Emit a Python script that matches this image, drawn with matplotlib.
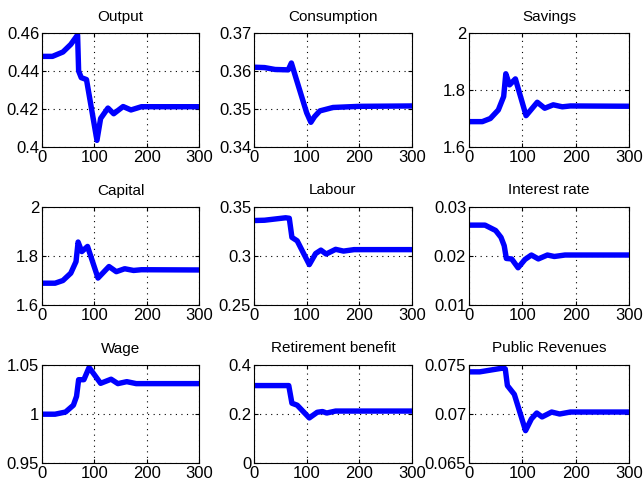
import matplotlib
matplotlib.use("Agg")
import matplotlib.pyplot as plt
from matplotlib.ticker import FuncFormatter

plt.rcParams["font.family"] = ["Liberation Sans", "DejaVu Sans"]

# --- data (period, value) ---
output_x = [0, 20, 40, 55, 68, 70, 75, 85, 105, 112, 126, 137, 155, 170, 190, 300]
output_y = [0.4477, 0.4477, 0.4500, 0.4540, 0.4590, 0.4400, 0.4365, 0.4355, 0.4035,
            0.4150, 0.4205, 0.4175, 0.4213, 0.4195, 0.4212, 0.4212]

cons_x = [0, 20, 40, 65, 71, 80, 100, 108, 115, 125, 150, 200, 300]
cons_y = [0.3610, 0.3609, 0.3604, 0.3603, 0.3621, 0.3580, 0.3490, 0.3465, 0.3480,
          0.3495, 0.3504, 0.3507, 0.3508]

sav_x = [0, 25, 40, 55, 65, 69, 76, 87, 107, 128, 142, 158, 175, 190, 300]
sav_y = [1.689, 1.689, 1.700, 1.730, 1.777, 1.857, 1.818, 1.839, 1.710, 1.757,
         1.736, 1.748, 1.741, 1.744, 1.743]

cap_x = sav_x
cap_y = sav_y

lab_x = [0, 20, 60, 67, 72, 82, 105, 117, 127, 137, 155, 170, 190, 300]
lab_y = [0.3362, 0.3365, 0.3390, 0.3385, 0.3190, 0.3155, 0.2912, 0.3025, 0.3060,
         0.3020, 0.3068, 0.3050, 0.3065, 0.3065]

rate_x = [0, 30, 50, 60, 66, 70, 80, 92, 105, 117, 130, 147, 160, 180, 300]
rate_y = [0.0263, 0.0263, 0.0252, 0.0238, 0.0221, 0.0195, 0.0194, 0.0176, 0.0193,
          0.0202, 0.0194, 0.0202, 0.0199, 0.0202, 0.0202]

wage_x = [0, 25, 45, 60, 66, 70, 80, 90, 112, 132, 145, 162, 180, 300]
wage_y = [0.9998, 0.9998, 1.0020, 1.0090, 1.0180, 1.0350, 1.0350, 1.0475, 1.0313,
          1.0355, 1.0310, 1.0330, 1.0310, 1.0310]

ret_x = [0, 66, 72, 82, 105, 120, 130, 138, 155, 300]
ret_y = [0.316, 0.316, 0.244, 0.236, 0.184, 0.207, 0.210, 0.204, 0.212, 0.212]

rev_x = [0, 20, 65, 68, 72, 85, 106, 117, 127, 137, 155, 170, 190, 300]
rev_y = [0.0743, 0.0743, 0.0747, 0.0746, 0.0729, 0.0720, 0.0683, 0.0695, 0.0701,
         0.0697, 0.0702, 0.0700, 0.0702, 0.0702]

titles = ["Output", "Consumption", "Savings", "Capital", "Labour", "Interest rate",
          "Wage", "Retirement benefit", "Public Revenues"]
series = [(output_x, output_y), (cons_x, cons_y), (sav_x, sav_y), (cap_x, cap_y),
          (lab_x, lab_y), (rate_x, rate_y), (wage_x, wage_y), (ret_x, ret_y),
          (rev_x, rev_y)]
yticks = [[0.40, 0.42, 0.44, 0.46], [0.34, 0.35, 0.36, 0.37], [1.6, 1.8, 2.0],
          [1.6, 1.8, 2.0], [0.25, 0.30, 0.35], [0.01, 0.02, 0.03],
          [0.95, 1.00, 1.05], [0.0, 0.2, 0.4], [0.065, 0.070, 0.075]]

W, H = 644, 487
# axes boxes in pixels: (left, right) per column, (top, bottom) per row
cols = [(42, 199), (254, 412), (469, 629)]
rows = [(33, 147), (207, 305), (365, 463)]

fig = plt.figure(figsize=(W / 100, H / 100), dpi=100)
for i, (title, (xs, ys), yt) in enumerate(zip(titles, series, yticks)):
    (l, r), (t, b) = cols[i % 3], rows[i // 3]
    ax = fig.add_axes([l / W, 1 - b / H, (r - l) / W, (b - t) / H])
    ax.plot(xs, ys, color="#0000ff", lw=3.9, solid_joinstyle="round",
            solid_capstyle="butt")
    ax.set_xlim(0, 300)
    ax.set_ylim(yt[0], yt[-1])
    ax.set_xticks([0, 100, 200, 300])
    ax.set_yticks(yt)
    ax.yaxis.set_major_formatter(FuncFormatter(lambda v, p: f"{v:g}"))
    ax.grid(True, color="black", linestyle=(0, (1, 4)), linewidth=0.8)
    ax.tick_params(direction="in", top=True, right=True, length=3,
                   labelsize=12, pad=2)
    for s in ax.spines.values():
        s.set_linewidth(0.8)
    ax.set_title(title, fontsize=11, pad=9)

fig.savefig("out.png", dpi=100)
